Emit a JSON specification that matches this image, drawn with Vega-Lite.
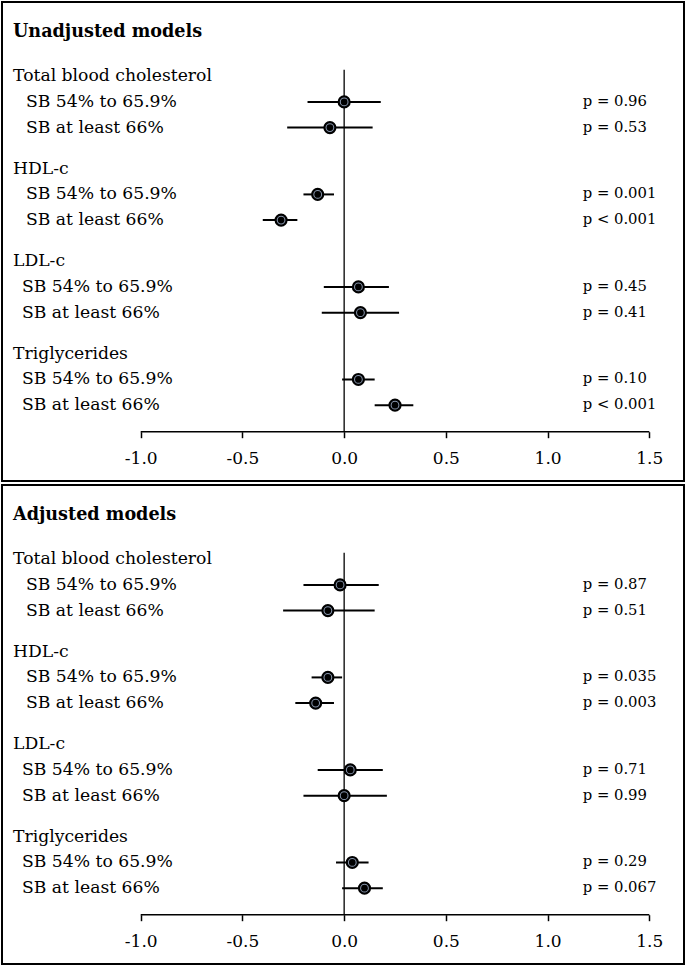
{
"$schema": "https://vega.github.io/schema/vega-lite/v6.json",
"background": "white",
"padding": {"left": 1, "top": 1, "right": 0, "bottom": 0},
"spacing": 2,
"config": {"view": {"stroke": "black", "strokeWidth": 2}, "font": "DejaVu Serif"},
"datasets": {
"rows": [
{"panel": "U", "type": "title", "group": "T", "label": "Unadjusted models", "pos": -1.73},
{"panel": "U", "type": "header", "group": "TBC", "label": "Total blood cholesterol", "pos": 0},
{"panel": "U", "type": "item", "group": "TBC", "label": "SB 54% to 65.9%", "pos": 1, "est": 0.0, "lo": -0.18, "hi": 0.18, "p": "p = 0.96"},
{"panel": "U", "type": "item", "group": "TBC", "label": "SB at least 66%", "pos": 2, "est": -0.07, "lo": -0.28, "hi": 0.14, "p": "p = 0.53"},
{"panel": "U", "type": "header", "group": "HDL", "label": "HDL-c", "pos": 3.6},
{"panel": "U", "type": "item", "group": "HDL", "label": "SB 54% to 65.9%", "pos": 4.6, "est": -0.13, "lo": -0.20, "hi": -0.05, "p": "p = 0.001"},
{"panel": "U", "type": "item", "group": "HDL", "label": "SB at least 66%", "pos": 5.6, "est": -0.31, "lo": -0.40, "hi": -0.23, "p": "p < 0.001"},
{"panel": "U", "type": "header", "group": "LDL", "label": "LDL-c", "pos": 7.2},
{"panel": "U", "type": "item", "group": "LDL", "label": "SB 54% to 65.9%", "pos": 8.2, "est": 0.07, "lo": -0.10, "hi": 0.22, "p": "p = 0.45"},
{"panel": "U", "type": "item", "group": "LDL", "label": "SB at least 66%", "pos": 9.2, "est": 0.08, "lo": -0.11, "hi": 0.27, "p": "p = 0.41"},
{"panel": "U", "type": "header", "group": "TG", "label": "Triglycerides", "pos": 10.8},
{"panel": "U", "type": "item", "group": "TG", "label": "SB 54% to 65.9%", "pos": 11.8, "est": 0.07, "lo": -0.01, "hi": 0.15, "p": "p = 0.10"},
{"panel": "U", "type": "item", "group": "TG", "label": "SB at least 66%", "pos": 12.8, "est": 0.25, "lo": 0.15, "hi": 0.34, "p": "p < 0.001"},
{"panel": "A", "type": "title", "group": "T", "label": "Adjusted models", "pos": -1.73},
{"panel": "A", "type": "header", "group": "TBC", "label": "Total blood cholesterol", "pos": 0},
{"panel": "A", "type": "item", "group": "TBC", "label": "SB 54% to 65.9%", "pos": 1, "est": -0.02, "lo": -0.20, "hi": 0.17, "p": "p = 0.87"},
{"panel": "A", "type": "item", "group": "TBC", "label": "SB at least 66%", "pos": 2, "est": -0.08, "lo": -0.30, "hi": 0.15, "p": "p = 0.51"},
{"panel": "A", "type": "header", "group": "HDL", "label": "HDL-c", "pos": 3.6},
{"panel": "A", "type": "item", "group": "HDL", "label": "SB 54% to 65.9%", "pos": 4.6, "est": -0.08, "lo": -0.16, "hi": -0.01, "p": "p = 0.035"},
{"panel": "A", "type": "item", "group": "HDL", "label": "SB at least 66%", "pos": 5.6, "est": -0.14, "lo": -0.24, "hi": -0.05, "p": "p = 0.003"},
{"panel": "A", "type": "header", "group": "LDL", "label": "LDL-c", "pos": 7.2},
{"panel": "A", "type": "item", "group": "LDL", "label": "SB 54% to 65.9%", "pos": 8.2, "est": 0.03, "lo": -0.13, "hi": 0.19, "p": "p = 0.71"},
{"panel": "A", "type": "item", "group": "LDL", "label": "SB at least 66%", "pos": 9.2, "est": 0.0, "lo": -0.20, "hi": 0.21, "p": "p = 0.99"},
{"panel": "A", "type": "header", "group": "TG", "label": "Triglycerides", "pos": 10.8},
{"panel": "A", "type": "item", "group": "TG", "label": "SB 54% to 65.9%", "pos": 11.8, "est": 0.04, "lo": -0.04, "hi": 0.12, "p": "p = 0.29"},
{"panel": "A", "type": "item", "group": "TG", "label": "SB at least 66%", "pos": 12.8, "est": 0.10, "lo": -0.01, "hi": 0.19, "p": "p = 0.067"}
],
"zero": [{"v": 0}],
"axisline": [{"a": -1, "b": 1.5}]
},
"vconcat": [
{
"width": 682, "height": 479,
"data": {"name": "rows"},
"transform": [{"filter": "datum.panel === 'U'"}],
"layer": [
{"data": {"name": "zero"}, "mark": {"type": "rule", "color": "black", "strokeWidth": 1.3},
 "encoding": {
  "x": {"field": "v", "type": "quantitative", "scale": {"domain": [-1.6818, 1.6705], "nice": false, "zero": false}, "axis": {"orient": "bottom", "offset": -49.3, "domain": false, "grid": false, "ticks": true, "tickSize": 6, "tickWidth": 1.5, "tickColor": "black", "values": [-1, -0.5, 0, 0.5, 1, 1.5], "labelExpr": "(datum.value < 0 ? '-' : '') + format(abs(datum.value), '.1f')", "labelFont": "DejaVu Serif", "labelFontSize": 17, "labelColor": "black", "labelPadding": 13, "title": null, "labelFlush": false, "labelOverlap": false}},
  "y": {"datum": -0.25, "type": "quantitative", "scale": {"domain": [-2.887, 15.751], "nice": false, "zero": false, "reverse": true}, "axis": null},
  "y2": {"datum": 13.83}}},
{"data": {"name": "axisline"}, "mark": {"type": "rule", "color": "black", "strokeWidth": 1.5},
 "encoding": {
  "x": {"field": "a", "type": "quantitative", "title": null},
  "x2": {"field": "b"},
  "y": {"datum": 13.83, "type": "quantitative"}}},
{"transform": [{"filter": "datum.type === 'item'"}], "mark": {"type": "rule", "color": "black", "strokeWidth": 2},
 "encoding": {
  "x": {"field": "lo", "type": "quantitative", "title": null},
  "x2": {"field": "hi"},
  "y": {"field": "pos", "type": "quantitative"}}},
{"transform": [{"filter": "datum.type === 'item'"}], "mark": {"type": "point", "shape": "circle", "filled": true, "fill": "#8896ad", "stroke": "black", "strokeWidth": 2.2, "size": 120, "opacity": 1},
 "encoding": {
  "x": {"field": "est", "type": "quantitative", "title": null},
  "y": {"field": "pos", "type": "quantitative"}}},
{"transform": [{"filter": "datum.type === 'item'"}], "mark": {"type": "circle", "color": "black", "size": 45, "opacity": 1},
 "encoding": {
  "x": {"field": "est", "type": "quantitative", "title": null},
  "y": {"field": "pos", "type": "quantitative"}}},
{"transform": [{"filter": "datum.type === 'title'"}], "mark": {"type": "text", "align": "left", "baseline": "middle", "fontSize": 17.6, "fontWeight": "bold", "font": "DejaVu Serif", "color": "black"},
 "encoding": {
  "x": {"datum": -1.6277, "type": "quantitative"},
  "y": {"field": "pos", "type": "quantitative"},
  "text": {"field": "label"}}},
{"transform": [{"filter": "datum.type === 'header'"}], "mark": {"type": "text", "align": "left", "baseline": "middle", "fontSize": 17.2, "font": "DejaVu Serif", "color": "black"},
 "encoding": {
  "x": {"datum": -1.6277, "type": "quantitative"},
  "y": {"field": "pos", "type": "quantitative"},
  "text": {"field": "label"}}},
{"transform": [{"filter": "datum.type === 'item' && (datum.group === 'TBC' || datum.group === 'HDL')"}], "mark": {"type": "text", "align": "left", "baseline": "middle", "fontSize": 17.2, "font": "DejaVu Serif", "color": "black"},
 "encoding": {
  "x": {"datum": -1.5638, "type": "quantitative"},
  "y": {"field": "pos", "type": "quantitative"},
  "text": {"field": "label"}}},
{"transform": [{"filter": "datum.type === 'item' && (datum.group === 'LDL' || datum.group === 'TG')"}], "mark": {"type": "text", "align": "left", "baseline": "middle", "fontSize": 17.2, "font": "DejaVu Serif", "color": "black"},
 "encoding": {
  "x": {"datum": -1.5835, "type": "quantitative"},
  "y": {"field": "pos", "type": "quantitative"},
  "text": {"field": "label"}}},
{"transform": [{"filter": "datum.type === 'item'"}], "mark": {"type": "text", "align": "left", "baseline": "middle", "fontSize": 14.8, "font": "DejaVu Serif", "color": "black"},
 "encoding": {
  "x": {"datum": 1.1726, "type": "quantitative"},
  "y": {"field": "pos", "type": "quantitative"},
  "text": {"field": "p"}}}
]
},
{
"width": 682, "height": 479,
"data": {"name": "rows"},
"transform": [{"filter": "datum.panel === 'A'"}],
"layer": [
{"data": {"name": "zero"}, "mark": {"type": "rule", "color": "black", "strokeWidth": 1.3},
 "encoding": {
  "x": {"field": "v", "type": "quantitative", "scale": {"domain": [-1.6818, 1.6705], "nice": false, "zero": false}, "axis": {"orient": "bottom", "offset": -49.3, "domain": false, "grid": false, "ticks": true, "tickSize": 6, "tickWidth": 1.5, "tickColor": "black", "values": [-1, -0.5, 0, 0.5, 1, 1.5], "labelExpr": "(datum.value < 0 ? '-' : '') + format(abs(datum.value), '.1f')", "labelFont": "DejaVu Serif", "labelFontSize": 17, "labelColor": "black", "labelPadding": 13, "title": null, "labelFlush": false, "labelOverlap": false}},
  "y": {"datum": -0.25, "type": "quantitative", "scale": {"domain": [-2.887, 15.751], "nice": false, "zero": false, "reverse": true}, "axis": null},
  "y2": {"datum": 13.83}}},
{"data": {"name": "axisline"}, "mark": {"type": "rule", "color": "black", "strokeWidth": 1.5},
 "encoding": {
  "x": {"field": "a", "type": "quantitative", "title": null},
  "x2": {"field": "b"},
  "y": {"datum": 13.83, "type": "quantitative"}}},
{"transform": [{"filter": "datum.type === 'item'"}], "mark": {"type": "rule", "color": "black", "strokeWidth": 2},
 "encoding": {
  "x": {"field": "lo", "type": "quantitative", "title": null},
  "x2": {"field": "hi"},
  "y": {"field": "pos", "type": "quantitative"}}},
{"transform": [{"filter": "datum.type === 'item'"}], "mark": {"type": "point", "shape": "circle", "filled": true, "fill": "#8896ad", "stroke": "black", "strokeWidth": 2.2, "size": 120, "opacity": 1},
 "encoding": {
  "x": {"field": "est", "type": "quantitative", "title": null},
  "y": {"field": "pos", "type": "quantitative"}}},
{"transform": [{"filter": "datum.type === 'item'"}], "mark": {"type": "circle", "color": "black", "size": 45, "opacity": 1},
 "encoding": {
  "x": {"field": "est", "type": "quantitative", "title": null},
  "y": {"field": "pos", "type": "quantitative"}}},
{"transform": [{"filter": "datum.type === 'title'"}], "mark": {"type": "text", "align": "left", "baseline": "middle", "fontSize": 17.6, "fontWeight": "bold", "font": "DejaVu Serif", "color": "black"},
 "encoding": {
  "x": {"datum": -1.6277, "type": "quantitative"},
  "y": {"field": "pos", "type": "quantitative"},
  "text": {"field": "label"}}},
{"transform": [{"filter": "datum.type === 'header'"}], "mark": {"type": "text", "align": "left", "baseline": "middle", "fontSize": 17.2, "font": "DejaVu Serif", "color": "black"},
 "encoding": {
  "x": {"datum": -1.6277, "type": "quantitative"},
  "y": {"field": "pos", "type": "quantitative"},
  "text": {"field": "label"}}},
{"transform": [{"filter": "datum.type === 'item' && (datum.group === 'TBC' || datum.group === 'HDL')"}], "mark": {"type": "text", "align": "left", "baseline": "middle", "fontSize": 17.2, "font": "DejaVu Serif", "color": "black"},
 "encoding": {
  "x": {"datum": -1.5638, "type": "quantitative"},
  "y": {"field": "pos", "type": "quantitative"},
  "text": {"field": "label"}}},
{"transform": [{"filter": "datum.type === 'item' && (datum.group === 'LDL' || datum.group === 'TG')"}], "mark": {"type": "text", "align": "left", "baseline": "middle", "fontSize": 17.2, "font": "DejaVu Serif", "color": "black"},
 "encoding": {
  "x": {"datum": -1.5835, "type": "quantitative"},
  "y": {"field": "pos", "type": "quantitative"},
  "text": {"field": "label"}}},
{"transform": [{"filter": "datum.type === 'item'"}], "mark": {"type": "text", "align": "left", "baseline": "middle", "fontSize": 14.8, "font": "DejaVu Serif", "color": "black"},
 "encoding": {
  "x": {"datum": 1.1726, "type": "quantitative"},
  "y": {"field": "pos", "type": "quantitative"},
  "text": {"field": "p"}}}
]
}
]
}
